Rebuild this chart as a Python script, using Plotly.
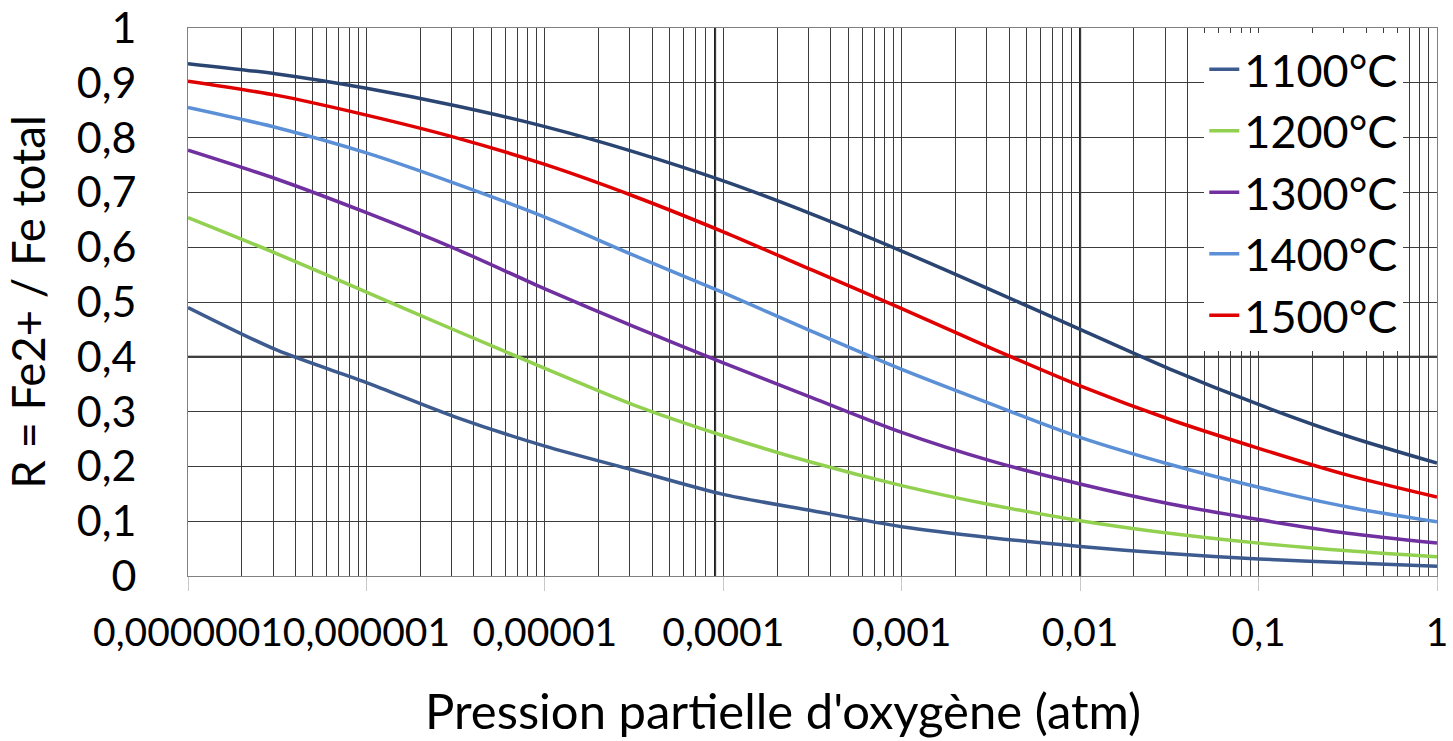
import plotly.graph_objects as go

# Partial oxygen pressure (atm), sampled every half decade
pressure = [1e-7, 3.16e-7, 1e-6, 3.16e-6, 1e-5, 3.16e-5, 1e-4, 3.16e-4,
            1e-3, 3.16e-3, 1e-2, 3.16e-2, 1e-1, 3.16e-1, 1.0]

r_1100 = [0.490, 0.412, 0.353, 0.290, 0.237, 0.193, 0.149, 0.119,
          0.090, 0.070, 0.054, 0.041, 0.031, 0.024, 0.018]
r_1200 = [0.654, 0.588, 0.518, 0.448, 0.379, 0.312, 0.256, 0.207,
          0.165, 0.130, 0.101, 0.078, 0.060, 0.046, 0.035]
r_1300 = [0.777, 0.724, 0.663, 0.597, 0.524, 0.455, 0.389, 0.325,
          0.262, 0.210, 0.168, 0.132, 0.103, 0.078, 0.060]
r_1400 = [0.855, 0.818, 0.772, 0.716, 0.655, 0.585, 0.517, 0.446,
          0.377, 0.314, 0.253, 0.204, 0.162, 0.126, 0.099]
r_1500 = [0.903, 0.877, 0.841, 0.800, 0.751, 0.693, 0.628, 0.558,
          0.488, 0.416, 0.347, 0.286, 0.233, 0.184, 0.144]
r_top = [0.935, 0.916, 0.890, 0.858, 0.820, 0.774, 0.721, 0.660,
         0.593, 0.522, 0.450, 0.378, 0.313, 0.255, 0.206]

series_names = ["1100°C", "1200°C", "1300°C", "1400°C", "1500°C", "1600°C"]
series_colors = ["#3d5b8f", "#92d050", "#7030a0", "#5b8fd6", "#e00000", "#2b4573"]
series_legend = [True, True, True, True, True, False]

x_tickvals = [1e-7, 1e-6, 1e-5, 1e-4, 1e-3, 1e-2, 1e-1, 1]
x_ticktext = ["0,0000001", "0,000001", "0,00001", "0,0001", "0,001", "0,01", "0,1", "1"]
y_tickvals = [0, 0.1, 0.2, 0.3, 0.4, 0.5, 0.6, 0.7, 0.8, 0.9, 1.0]
y_ticktext = ["0", "0,1", "0,2", "0,3", "0,4", "0,5", "0,6", "0,7", "0,8", "0,9", "1"]

# minor gridlines: 2..9 within each decade
x_minor = [k * 10.0 ** n for n in range(-7, 0) for k in range(2, 10)]

# darker reference lines
ref_vlines = [9e-5, 1e-2]
ref_hlines = [0.4]

FONT = "Lato"
GRID = "#3c3c3c"

fig = go.Figure()
all_series = [r_1100, r_1200, r_1300, r_1400, r_1500, r_top]
for name, vals, col, leg in zip(series_names, all_series, series_colors, series_legend):
    fig.add_trace(go.Scatter(
        x=pressure, y=vals, name=name, mode="lines",
        line=dict(color=col, width=3.5, shape="spline", smoothing=0.8),
        showlegend=leg,
    ))

for xv in ref_vlines:
    fig.add_vline(x=xv, line=dict(color="#000000", width=2), layer="below")
for yv in ref_hlines:
    fig.add_hline(y=yv, line=dict(color="#000000", width=2), layer="below")

fig.update_layout(
    width=1453, height=741,
    margin=dict(l=188, r=16, t=28, b=165, autoexpand=False),
    paper_bgcolor="white", plot_bgcolor="white",
    font=dict(family=FONT, color="#000000"),
    showlegend=True,
    legend=dict(
        x=0.973, xanchor="right", y=0.99, yanchor="top",
        bgcolor="white", borderwidth=0,
        font=dict(family=FONT, size=45, color="#000000"),
        itemwidth=30,
    ),
    annotations=[dict(
        text="Pression partielle d'oxygène (atm)",
        xref="paper", yref="paper", x=0.4764, y=-0.302,
        xanchor="center", yanchor="bottom", showarrow=False,
        font=dict(family=FONT, size=49, color="#000000"),
    )],
)

fig.update_xaxes(
    type="log", range=[-7, 0], automargin=False,
    tickmode="array", tickvals=x_tickvals, ticktext=x_ticktext,
    tickangle=0,
    tickfont=dict(family=FONT, size=39, color="#000000"),
    ticks="outside", ticklen=14, tickcolor="#c8c8c8", tickwidth=1,
    ticklabelstandoff=8,
    showgrid=True, gridcolor=GRID, gridwidth=1,
    minor=dict(tickvals=x_minor, showgrid=True, gridcolor=GRID, gridwidth=1, ticks=""),
    showline=True, linecolor="#808080", linewidth=1, mirror=True,
    zeroline=False,
)
fig.update_yaxes(
    range=[0, 1], automargin=False,
    tickmode="array", tickvals=y_tickvals, ticktext=y_ticktext,
    tickfont=dict(family=FONT, size=43, color="#000000"),
    ticks="", ticklabelstandoff=42,
    showgrid=True, gridcolor=GRID, gridwidth=1,
    showline=True, linecolor="#808080", linewidth=1, mirror=True,
    zeroline=False,
    title=dict(text="R = Fe2+ / Fe total", standoff=25,
               font=dict(family=FONT, size=45.5, color="#000000")),
)

# drop the page's default 8px body margin so the figure fills the window exactly
fig.write_html(
    "out.html",
    config={"displayModeBar": False},
    post_script="document.body.style.margin='0';",
)
